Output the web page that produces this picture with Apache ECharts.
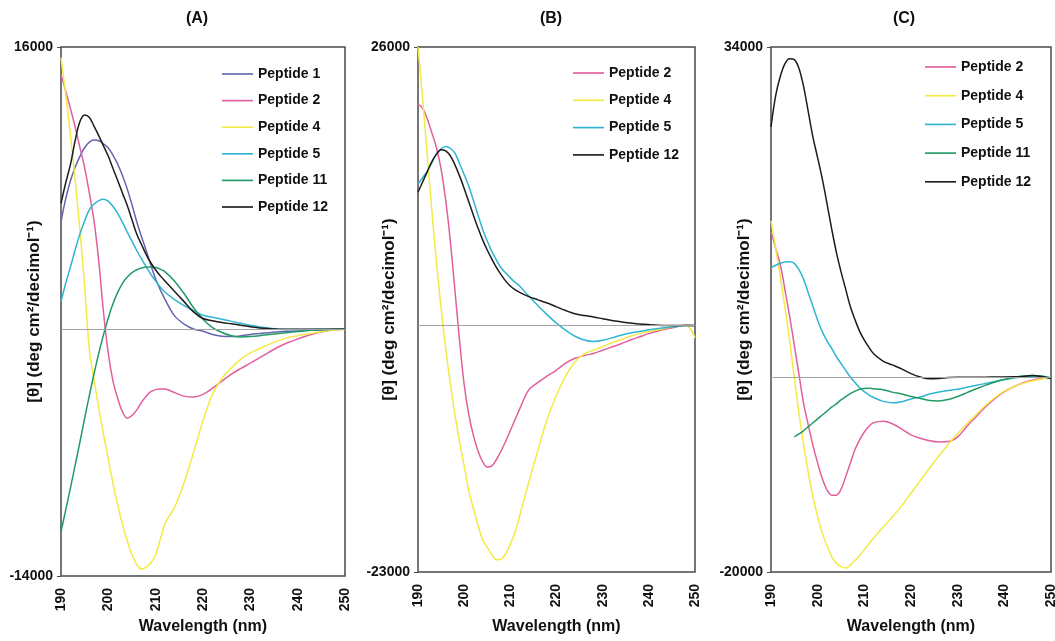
<!DOCTYPE html>
<html>
<head>
<meta charset="utf-8">
<script src="https://cdn.jsdelivr.net/npm/echarts@6/dist/echarts.min.js"></script>
<style>
  html, body { margin: 0; padding: 0; background: #ffffff; }
  #chart { width: 1055px; height: 641px; }
</style>
</head>
<body>
<div id="chart"></div>
<script>
// Wavelength sampling (nm): 1 nm steps up to 212, then 2 nm steps
const wavelengths = [190,191,192,193,194,195,196,197,198,199,200,201,202,203,204,205,206,207,208,209,210,211,212,
  214,216,218,220,222,224,226,228,230,232,234,236,238,240,242,244,246,248,250];

const xTicks = [190, 200, 210, 220, 230, 240, 250];
const panelTitles = ['(A)', '(B)', '(C)'];
const yRangeA = [-14000, 16000];
const yRangeB = [-23000, 26000];
const yRangeC = [-20000, 34000];

// Panel A: mean residue ellipticity
const aPeptide1 = [6090,7400,8410,9200,9800,10300,10610,10720,10680,10500,10270,9850,9340,8700,7940,7050,6090,5250,4460,3620,2840,2220,1670,
  750,290,10,-120,-300,-400,-420,-380,-300,-250,-200,-150,-120,-100,-80,-60,-40,-20,0];
const aPeptide2 = [14450,13500,12500,11450,10300,9150,7700,6100,3800,900,-1400,-2960,-3950,-4700,-5050,-4900,-4590,-4150,-3800,-3550,-3430,-3390,-3400,
  -3600,-3800,-3850,-3700,-3350,-2950,-2550,-2230,-1930,-1620,-1300,-1000,-760,-560,-380,-220,-110,-40,0];
const aPeptide4 = [15400,13300,11000,8400,5600,2400,-1200,-2900,-4500,-6000,-7400,-8770,-10000,-11100,-12000,-12800,-13350,-13600,-13500,-13250,-12800,-11900,-11000,
  -10100,-8700,-7000,-5200,-3700,-2800,-2200,-1700,-1350,-1100,-850,-650,-480,-370,-280,-190,-110,-50,0];
const aPeptide5 = [1560,2600,3530,4500,5390,6150,6780,7100,7290,7360,7240,6950,6550,6050,5500,4980,4460,3980,3530,3100,2720,2380,2090,
  1670,1330,1050,790,670,560,440,330,220,120,50,0,-20,-20,-20,-10,-10,0,0];
const aPeptide11 = [-11500,-10250,-9000,-7700,-6400,-5050,-3750,-2500,-1350,-300,650,1450,2100,2600,2950,3200,3370,3470,3530,3530,3490,3400,3250,
  2720,2020,1210,560,90,-190,-370,-440,-420,-370,-300,-250,-190,-140,-80,-50,-30,-10,0];
const aPeptide12 = [7130,8300,9340,10700,11770,12150,12000,11500,10960,10380,9800,9100,8410,7700,7010,6200,5390,4800,4230,3750,3350,3020,2720,
  2140,1560,980,600,480,380,300,220,140,70,30,0,-10,-10,-10,0,0,0,0];

// Panel B
const bPeptide2 = [20650,20300,19300,18000,16600,14600,11700,7900,3300,-1400,-5500,-8300,-10250,-11700,-12700,-13200,-13100,-12500,-11700,-10800,-9800,-8800,-7800,
  -6000,-5300,-4700,-4150,-3500,-3050,-2800,-2600,-2300,-2000,-1700,-1350,-1050,-750,-500,-300,-120,50,-50];
const bPeptide4 = [26000,21200,15900,10700,5950,1600,-2150,-5400,-8300,-10850,-13100,-15400,-17100,-18650,-20000,-20700,-21400,-21850,-21800,-21300,-20400,-19300,-17800,
  -14600,-11600,-8700,-6500,-4700,-3400,-2650,-2300,-1950,-1600,-1300,-1000,-750,-550,-400,-200,-50,50,-1150];
const bPeptide5 = [13200,13800,14400,15200,16000,16500,16720,16550,16100,15120,14100,13000,11700,10300,9000,7900,6900,6100,5400,4900,4450,4050,3700,
  2750,1850,1000,230,-450,-1000,-1350,-1490,-1380,-1150,-900,-700,-550,-400,-280,-180,-80,0,0];
const bPeptide12 = [12440,13400,14350,15300,16000,16400,16300,15850,15000,13970,12800,11550,10300,9100,8000,7050,6200,5400,4750,4150,3700,3350,3100,
  2700,2400,2100,1750,1400,1100,930,800,640,480,350,230,150,90,40,10,0,0,0];

// Panel C
const cPeptide2 = [15060,13300,11600,9000,6300,3300,300,-2700,-4900,-7000,-8800,-10400,-11550,-12100,-12100,-11500,-10200,-8800,-7400,-6400,-5600,-5000,-4650,
  -4500,-4750,-5300,-5900,-6250,-6500,-6620,-6580,-6100,-5000,-4000,-3000,-2150,-1450,-950,-550,-280,-100,0];
const cPeptide4 = [16110,13300,10350,7200,3800,0,-3700,-6900,-9800,-12300,-14300,-16000,-17300,-18400,-19100,-19450,-19580,-19300,-18820,-18300,-17700,-17100,-16500,
  -15400,-14350,-13200,-11900,-10600,-9300,-8050,-6850,-5750,-4750,-3800,-2850,-2050,-1400,-950,-600,-350,-150,0];
const cPeptide5 = [11270,11550,11750,11880,11900,11750,11100,10100,8700,7300,5900,4700,3770,3000,2150,1450,740,60,-500,-1050,-1450,-1800,-2050,
  -2450,-2600,-2480,-2200,-2000,-1700,-1480,-1330,-1200,-1000,-800,-600,-400,-200,-50,50,120,80,0];
const cPeptide11 = [null,null,null,null,null,-6110,-5800,-5450,-5050,-4650,-4250,-3850,-3450,-3050,-2700,-2300,-1950,-1650,-1400,-1200,-1120,-1100,-1150,
  -1250,-1500,-1700,-1950,-2150,-2350,-2400,-2250,-1950,-1550,-1150,-780,-450,-200,0,150,210,150,-90];
const cPeptide12 = [25790,29000,31000,32300,32800,32700,31800,29900,27300,24700,22600,20400,17900,15300,12900,10900,9100,7300,5950,4750,3850,3100,2450,
  1700,1300,900,400,50,-130,-90,0,40,40,40,40,50,60,80,120,200,100,-90];

const legendA = ['Peptide 1', 'Peptide 2', 'Peptide 4', 'Peptide 5', 'Peptide 11', 'Peptide 12'];
const legendB = ['Peptide 2', 'Peptide 4', 'Peptide 5', 'Peptide 12'];
const legendC = ['Peptide 2', 'Peptide 4', 'Peptide 5', 'Peptide 11', 'Peptide 12'];

const colors = {
  'Peptide 1': '#6565ad',
  'Peptide 2': '#e25f9e',
  'Peptide 4': '#f3ea45',
  'Peptide 5': '#2fb5d2',
  'Peptide 11': '#229a66',
  'Peptide 12': '#1c1c1c'
};

const FONT = '"Liberation Sans", Arial, sans-serif';
const yName = '[θ] (deg cm²/decimol⁻¹)';

const grids = [
  { left: 61, top: 47, width: 284, height: 529 },
  { left: 418, top: 47, width: 277, height: 525 },
  { left: 771, top: 47, width: 280, height: 525 }
].map(g => Object.assign(g, {
  show: true, borderColor: '#4a4a4a', borderWidth: 1.5, backgroundColor: 'transparent',
  containLabel: false, outerBoundsMode: 'none'
}));

function xAxisFor(idx, gap) {
  return {
    type: 'value', gridIndex: idx, min: xTicks[0], max: xTicks[xTicks.length - 1], interval: 10,
    axisLine: { show: false }, axisTick: { show: false }, splitLine: { show: false },
    axisLabel: { rotate: 90, fontSize: 14, fontWeight: 'bold', fontFamily: FONT, color: '#111', margin: 12 },
    name: 'Wavelength (nm)', nameLocation: 'middle', nameGap: gap, nameMoveOverlap: false,
    nameTextStyle: { fontSize: 16, fontWeight: 'bold', fontFamily: FONT, color: '#111' }
  };
}

function yAxisFor(idx, range, gap) {
  return {
    type: 'value', gridIndex: idx, min: range[0], max: range[1],
    axisLine: { show: false }, splitLine: { show: false },
    axisTick: { show: true, length: 4, lineStyle: { color: '#4a4a4a', width: 1 }, customValues: range },
    axisLabel: { customValues: range, showMinLabel: true, showMaxLabel: true,
      formatter: v => String(v),
      fontSize: 14, fontWeight: 'bold', fontFamily: FONT, color: '#111', margin: 8 },
    name: yName, nameLocation: 'middle', nameRotate: 90, nameGap: gap, nameMoveOverlap: false,
    nameTextStyle: { fontSize: 17, fontWeight: 'bold', fontFamily: FONT, color: '#111' }
  };
}

function seriesFor(idx, name, values, withZeroLine) {
  const data = [];
  wavelengths.forEach((w, i) => { if (values[i] !== null) data.push([w, values[i]]); });
  const s = {
    type: 'line', name: name, xAxisIndex: idx, yAxisIndex: idx, data: data,
    symbol: 'none', smooth: 0.35, color: colors[name],
    lineStyle: { width: 1.5, color: colors[name] }, z: 3
  };
  if (withZeroLine) {
    s.markLine = {
      silent: true, symbol: 'none', label: { show: false },
      lineStyle: { color: '#a3a3a3', width: 1, type: 'solid' },
      data: [{ yAxis: 0 }]
    };
  }
  return s;
}

// Legend swatch: a plain short line
const LINE_ICON = 'path://M0,0 L30,0 L30,1.6 L0,1.6 Z';

function legendFor(names, left, top, gap) {
  return {
    show: true, orient: 'vertical', left: left, top: top, data: names, padding: 0,
    icon: LINE_ICON, itemWidth: 31, itemHeight: 14, itemGap: gap, selectedMode: false,
    textStyle: { fontSize: 14, fontWeight: 'bold', fontFamily: FONT, color: '#111' }
  };
}

const series = [
  seriesFor(0, 'Peptide 1', aPeptide1, true),
  seriesFor(0, 'Peptide 2', aPeptide2),
  seriesFor(0, 'Peptide 4', aPeptide4),
  seriesFor(0, 'Peptide 5', aPeptide5),
  seriesFor(0, 'Peptide 11', aPeptide11),
  seriesFor(0, 'Peptide 12', aPeptide12),
  seriesFor(1, 'Peptide 2', bPeptide2, true),
  seriesFor(1, 'Peptide 4', bPeptide4),
  seriesFor(1, 'Peptide 5', bPeptide5),
  seriesFor(1, 'Peptide 12', bPeptide12),
  seriesFor(2, 'Peptide 2', cPeptide2, true),
  seriesFor(2, 'Peptide 4', cPeptide4),
  seriesFor(2, 'Peptide 5', cPeptide5),
  seriesFor(2, 'Peptide 11', cPeptide11),
  seriesFor(2, 'Peptide 12', cPeptide12)
];

const titleX = [197, 551, 904];
const graphic = panelTitles.map((t, i) => ({
  type: 'text', x: titleX[i], y: 19,
  style: { text: t, fontSize: 16, fontWeight: 'bold', fontFamily: FONT, fill: '#111', align: 'center', verticalAlign: 'middle' }
}));

const chart = echarts.init(document.getElementById('chart'), null, { renderer: 'canvas' });
chart.setOption({
  animation: false,
  backgroundColor: '#ffffff',
  grid: grids,
  xAxis: [xAxisFor(0, 43), xAxisFor(1, 47), xAxisFor(2, 47)],
  yAxis: [yAxisFor(0, yRangeA, 18), yAxisFor(1, yRangeB, 20), yAxisFor(2, yRangeC, 18)],
  legend: [
    legendFor(legendA, 222, 67, 12.6),
    legendFor(legendB, 573, 66, 13.3),
    legendFor(legendC, 925, 60, 14.7)
  ],
  graphic: graphic,
  series: series
});
</script>
</body>
</html>
